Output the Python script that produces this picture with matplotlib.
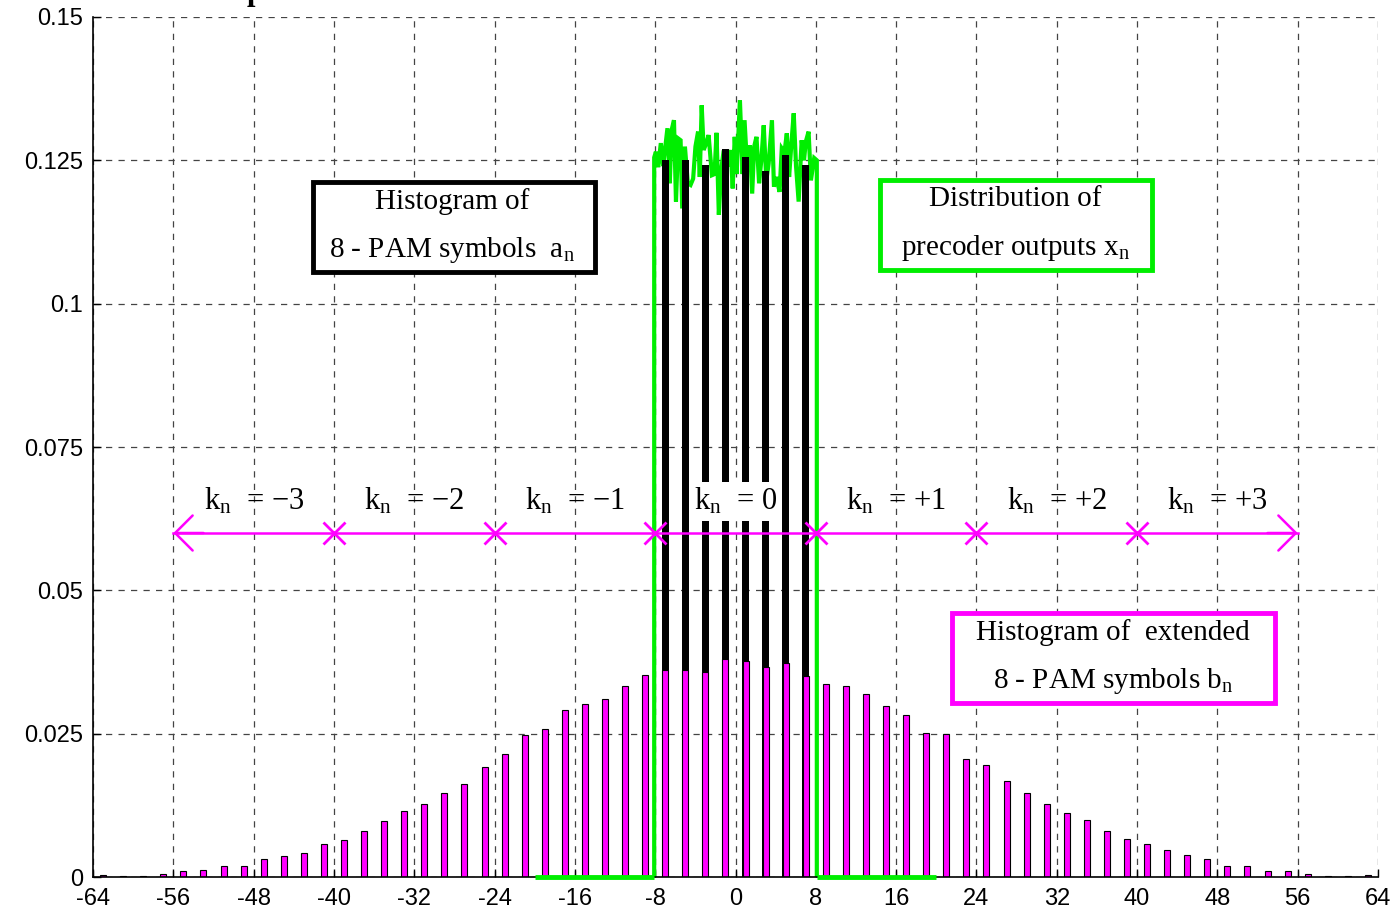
import matplotlib
matplotlib.use('Agg')
import matplotlib.pyplot as plt
from matplotlib.patches import Rectangle

plt.rcParams['font.family'] = ['Liberation Sans', 'DejaVu Sans']
plt.rcParams['mathtext.fontset'] = 'custom'
plt.rcParams['mathtext.rm'] = 'Liberation Serif'
plt.rcParams['mathtext.it'] = 'Liberation Serif:italic'

# ---------------- data ----------------
ext_levels = list(range(-63, 64, 2))
ext_hist = [0.0003, 0.0002, 0.0002, 0.0006, 0.0010, 0.0013, 0.0019, 0.0019,
            0.0032, 0.0036, 0.0042, 0.0058, 0.0064, 0.0080, 0.0097, 0.0115,
            0.0128, 0.0147, 0.0163, 0.0192, 0.0214, 0.0247, 0.0259, 0.0291,
            0.0301, 0.0311, 0.0333, 0.0352, 0.0361, 0.0361, 0.0358, 0.0380,
            0.0377, 0.0367, 0.0373, 0.0351, 0.0336, 0.0333, 0.0320, 0.0298,
            0.0282, 0.0252, 0.0249, 0.0205, 0.0195, 0.0167, 0.0147, 0.0128,
            0.0112, 0.0099, 0.0080, 0.0067, 0.0057, 0.0048, 0.0038, 0.0031,
            0.0019, 0.0019, 0.0010, 0.0010, 0.0006, 0.0002, 0.0002, 0.0003]

pam_levels = [-7, -5, -3, -1, 1, 3, 5, 7]
pam_hist = [0.1250, 0.1250, 0.1241, 0.1270, 0.1256, 0.1231, 0.1259, 0.1241]

precoder_x = [-20, -8.1, -8.1,
              -7.93, -7.70, -7.44, -7.21, -6.78, -6.55, -6.36, -6.13, -5.93, -5.70,
              -5.47, -5.31, -5.04, -4.75, -4.48, -4.22, -3.99, -3.73, -3.56, -3.37,
              -3.17, -2.91, -2.68, -2.35, -2.09, -1.89, -1.66, -1.43, -1.20, -0.94,
              -0.71, -0.48, -0.28, -0.08, 0.11, 0.44, 0.71, 0.90, 1.17, 1.43,
              1.66, 1.86, 2.09, 2.35, 2.58, 2.81, 3.07, 3.30, 3.63, 3.83,
              4.06, 4.39, 4.61, 4.88, 5.11, 5.34, 5.57, 5.80, 6.03, 6.29,
              6.59, 6.82, 7.01, 7.28, 7.51, 7.84,
              8.1, 8.1, 20]
precoder_pdf = [0, 0, 0.1255,
                0.1265, 0.1238, 0.1280, 0.1240, 0.1306, 0.1210, 0.1303, 0.1320, 0.1178, 0.1288,
                0.1285, 0.1166, 0.1274, 0.1210, 0.1207, 0.1218, 0.1274, 0.1300, 0.1221, 0.1346,
                0.1268, 0.1280, 0.1294, 0.1224, 0.1226, 0.1298, 0.1155, 0.1233, 0.1264, 0.1264,
                0.1239, 0.1268, 0.1201, 0.1291, 0.1226, 0.1355, 0.1226, 0.1320, 0.1234, 0.1276,
                0.1192, 0.1274, 0.1291, 0.1210, 0.1252, 0.1311, 0.1215, 0.1244, 0.1320, 0.1204,
                0.1221, 0.1195, 0.1271, 0.1264, 0.1297, 0.1221, 0.1280, 0.1332, 0.1240, 0.1178,
                0.1285, 0.1250, 0.1283, 0.1300, 0.1215, 0.1254,
                0.1250, 0, 0]

k_values = ['\u22123', '\u22122', '\u22121', '0', '+1', '+2', '+3']
k_centers = [-48, -32, -16, 0, 16, 32, 48]
k_bounds = [-40, -24, -8, 8, 24, 40]
arrow_y = 0.06

xticks = list(range(-64, 65, 8))
yticks = [0, 0.025, 0.05, 0.075, 0.1, 0.125, 0.15]
ytick_labels = ['0', '0.025', '0.05', '0.075', '0.1', '0.125', '0.15']

# ---------------- figure ----------------
fig = plt.figure(figsize=(13.93, 9.08), dpi=100)
ax = fig.add_axes([0.0668, 0.0341, 0.9224, 0.9472])

ax.set_xlim(-64, 64)
ax.set_ylim(0, 0.15)
ax.set_xticks(xticks)
ax.set_xticklabels([str(v) for v in xticks])
ax.set_yticks(yticks)
ax.set_yticklabels(ytick_labels)
ax.tick_params(direction='in', length=6, width=1, labelsize=17)
ax.tick_params(axis='x', pad=8)
ax.tick_params(axis='y', pad=7)
for s in ['top', 'right']:
    ax.spines[s].set_visible(False)
for s in ['left', 'bottom']:
    ax.spines[s].set_linewidth(1.2)
    ax.spines[s].set_zorder(10)

ax.grid(True, color='#444444', linestyle=(0, (5, 5)), linewidth=0.9)
ax.set_axisbelow(True)

green = '#00ee00'
# green distribution (central part behind the black bars)
ax.plot(precoder_x[1:-1], precoder_pdf[1:-1], color=green, linewidth=3, zorder=2,
        solid_joinstyle='miter')
# zero-valued tails of the distribution, drawn over the axis line
ax.plot(precoder_x[:2], precoder_pdf[:2], color=green, linewidth=3.5, zorder=11,
        clip_on=False, solid_capstyle='butt')
ax.plot(precoder_x[-2:], precoder_pdf[-2:], color=green, linewidth=3.5, zorder=11,
        clip_on=False, solid_capstyle='butt')

# black histogram of 8-PAM symbols
ax.bar(pam_levels, pam_hist, width=0.7, color='black', zorder=3)
# magenta histogram of extended symbols
ax.bar(ext_levels, ext_hist, width=0.6, color='#ff00ff', edgecolor='black',
       linewidth=0.8, zorder=4)

# arrow with k_n intervals
mag = '#ff00ff'
ax.plot([-56, 56], [arrow_y, arrow_y], color=mag, linewidth=1.8, zorder=6)
ax.plot(k_bounds, [arrow_y] * len(k_bounds), linestyle='none', marker='x',
        markersize=16, markeredgewidth=2, color=mag, zorder=6)
for end, start in [(-56, -53), (56, 53)]:
    ax.annotate('', xy=(end, arrow_y), xytext=(start, arrow_y),
                arrowprops=dict(arrowstyle='->,head_length=0.45,head_width=0.45',
                                color=mag, lw=1.8, mutation_scale=28,
                                shrinkA=0, shrinkB=0), zorder=6)

for c, v in zip(k_centers, k_values):
    kw = {}
    if v == '0':
        kw['bbox'] = dict(facecolor='white', edgecolor='none', pad=3)
    ax.text(c, 0.0655, 'k$_{\\mathrm{n}}$  = ' + v, ha='center', va='center',
            fontsize=22, family=['Liberation Serif'], zorder=7, **kw)

# text boxes
def box(x0, x1, y0, y1, color, lines, ys, xc):
    r = Rectangle((x0, y0), x1 - x0, y1 - y0, facecolor='white', edgecolor=color,
                  linewidth=3.5, zorder=8, clip_on=False)
    ax.add_patch(r)
    for t, y in zip(lines, ys):
        ax.text(xc, y, t, ha='center', va='center', fontsize=21,
                family=['Liberation Serif'], zorder=9)

box(-42.1, -14.0, 0.1055, 0.1212, 'black',
    ['Histogram of', '8 - PAM symbols  a$_{\\mathrm{n}}$'], [0.1179, 0.1093], -28.2)
box(14.4, 41.5, 0.1059, 0.1216, green,
    ['Distribution of', 'precoder outputs x$_{\\mathrm{n}}$'], [0.1182, 0.1097], 27.9)
box(21.6, 53.7, 0.0303, 0.0460, '#ff00ff',
    ['Histogram of  extended', '8 - PAM symbols b$_{\\mathrm{n}}$'], [0.0427, 0.0342], 37.6)

# cut-off title remnant at the very top
fig.text(255 / 1393, 1.0, 'p', ha='center', va='baseline', fontsize=22,
         fontweight='bold', family=['Liberation Serif'])

fig.savefig('out.png', dpi=100)
